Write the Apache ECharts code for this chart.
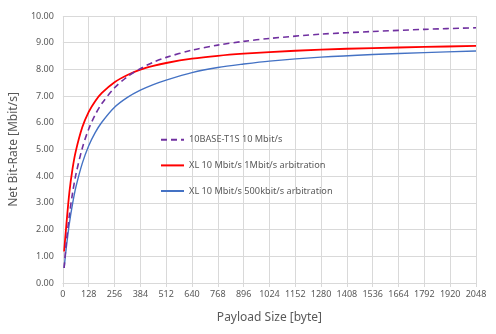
<!DOCTYPE html>
<html>
<head>
<meta charset="utf-8">
<script src="https://cdn.jsdelivr.net/npm/echarts@6/dist/echarts.min.js"></script>
<style>
html,body{margin:0;padding:0;background:#fff;}
#chart{width:496px;height:334px;}
</style>
</head>
<body>
<div id="chart"></div>
<script>
var payload = [6, 16, 32, 48, 64, 96, 128, 160, 192, 256, 320, 384, 448, 512, 640, 768, 896, 1024, 1280, 1536, 1792, 2048];
var t1s = [0.56, 1.45, 2.54, 3.38, 4.05, 5.05, 5.77, 6.30, 6.71, 7.31, 7.73, 8.03, 8.27, 8.45, 8.72, 8.91, 9.05, 9.16, 9.32, 9.42, 9.50, 9.56];
var xl1M = [1.18, 2.08, 3.39, 4.29, 4.94, 5.83, 6.41, 6.81, 7.11, 7.52, 7.79, 7.99, 8.13, 8.24, 8.40, 8.51, 8.59, 8.65, 8.74, 8.80, 8.84, 8.88];
var xl500k = [0.56, 1.27, 2.23, 2.97, 3.58, 4.48, 5.14, 5.63, 6.01, 6.58, 6.95, 7.22, 7.43, 7.60, 7.88, 8.07, 8.20, 8.31, 8.46, 8.56, 8.63, 8.69];
var seriesNames = ['10BASE-T1S 10 Mbit/s', 'XL 10 Mbit/s 1Mbit/s arbitration', 'XL 10 Mbit/s 500kbit/s arbitration'];
var xTitle = 'Payload Size [byte]';
var yTitle = 'Net Bit-Rate [Mbit/s]';

function pairs(xs, ys) { return xs.map(function (x, i) { return [x, ys[i]]; }); }

var font = 'Noto Sans';
var grey = '#595959';
var chart = echarts.init(document.getElementById('chart'), null, {renderer: 'canvas'});
chart.setOption({
  animation: false,
  backgroundColor: '#fff',
  textStyle: {fontFamily: font},
  grid: {left: 61, right: 20, top: 16, bottom: 51, containLabel: false},
  legend: {
    orient: 'vertical', left: 160, top: 135, padding: 0,
    itemWidth: 23, itemHeight: 12, itemGap: 16,
    itemStyle: {opacity: 0},
    textStyle: {color: grey, fontSize: 9.2, fontFamily: font},
    data: seriesNames
  },
  xAxis: {
    type: 'value', min: 0, max: 2048, interval: 128,
    name: xTitle, nameLocation: 'middle', nameGap: 29,
    nameTextStyle: {color: grey, fontSize: 12, fontFamily: font},
    axisLine: {show: true, lineStyle: {color: '#d9d9d9'}},
    axisTick: {show: true, length: 4, lineStyle: {color: '#d9d9d9'}},
    axisLabel: {color: grey, fontSize: 9, fontFamily: font, margin: 7,
      formatter: function (v) { return String(v); }},
    splitLine: {show: true, lineStyle: {color: '#d9d9d9', width: 1}}
  },
  yAxis: {
    type: 'value', min: 0, max: 10, interval: 1,
    name: yTitle, nameLocation: 'middle', nameGap: 34,
    nameTextStyle: {color: grey, fontSize: 12, fontFamily: font},
    axisLine: {show: false}, axisTick: {show: false},
    axisLabel: {color: grey, fontSize: 9, fontFamily: font, margin: 9,
      formatter: function (v) { return v.toFixed(2); }},
    splitLine: {show: true, lineStyle: {color: '#d9d9d9', width: 1}}
  },
  series: [
    {name: seriesNames[0], type: 'line', smooth: 0.3, symbol: 'none',
     data: pairs(payload, t1s), z: 3,
     lineStyle: {color: '#7030a0', width: 1.6, type: [6, 4]}, itemStyle: {color: '#7030a0'}},
    {name: seriesNames[1], type: 'line', smooth: 0.3, symbol: 'none',
     data: pairs(payload, xl1M), z: 2,
     lineStyle: {color: '#ff0000', width: 1.8}, itemStyle: {color: '#ff0000'}},
    {name: seriesNames[2], type: 'line', smooth: 0.3, symbol: 'none',
     data: pairs(payload, xl500k), z: 2,
     lineStyle: {color: '#4472c4', width: 1.4}, itemStyle: {color: '#4472c4'}}
  ]
});
</script>
</body>
</html>
